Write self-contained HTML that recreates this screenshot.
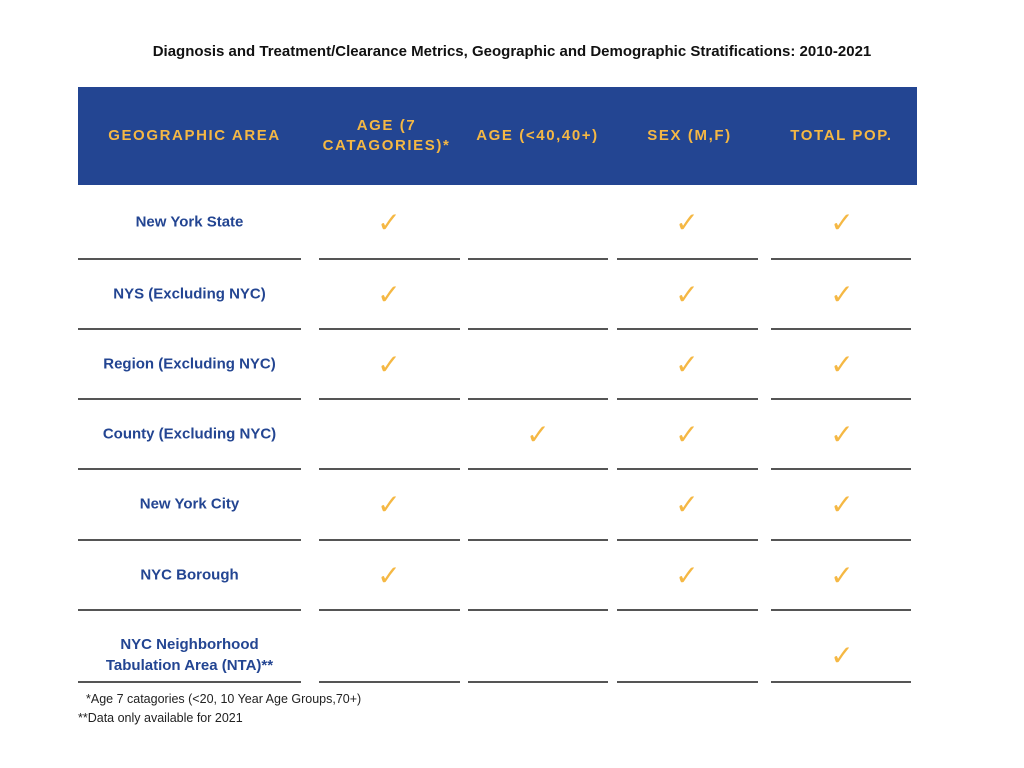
<!DOCTYPE html>
<html><head><meta charset="utf-8"><style>
body{margin:0;width:1024px;height:768px;background:#fff;position:relative;font-family:"Liberation Sans",sans-serif;overflow:hidden}
.a{position:absolute}
.title{left:0;width:1024px;top:43px;text-align:center;font-weight:bold;font-size:15px;color:#111}
.hdr{left:78px;top:87px;width:839px;height:98px;background:#234592}
.h{position:absolute;top:87px;height:98px;display:flex;align-items:center;justify-content:center;text-align:center;color:#f5b844;font-weight:bold;font-size:15px;letter-spacing:1.6px;line-height:20px}
.lbl{position:absolute;left:78px;width:223px;text-align:center;color:#234592;font-weight:bold;font-size:15px;line-height:21px;transform:translateY(-50%)}
.ln{position:absolute;height:1.5px;background:#555}
.ck{position:absolute;color:#f5b844;font-size:28px;transform:translate(-50%,-50%);line-height:1}
.fn{position:absolute;font-size:12.5px;color:#222}
</style></head><body>
<div class="a title">Diagnosis and Treatment/Clearance Metrics, Geographic and Demographic Stratifications: 2010-2021</div>
<div class="a hdr"></div>
<div class="h" style="left:78px;width:233px">GEOGRAPHIC AREA</div>
<div class="h" style="left:311px;width:151px">AGE (7<br>CATAGORIES)*</div>
<div class="h" style="left:462px;width:151px">AGE (&lt;40,40+)</div>
<div class="h" style="left:613px;width:153px">SEX (M,F)</div>
<div class="h" style="left:766px;width:151px">TOTAL POP.</div>
<div id="rows"></div>
<div class="fn" style="left:86px;top:692px">*Age 7 catagories (&lt;20, 10 Year Age Groups,70+)</div>
<div class="fn" style="left:78px;top:711px">**Data only available for 2021</div>
<script>
const labels=["New York State","NYS (Excluding NYC)","Region (Excluding NYC)","County (Excluding NYC)","New York City","NYC Borough","NYC Neighborhood<br>Tabulation Area (NTA)**"];
const checks=[[1,0,1,1],[1,0,1,1],[1,0,1,1],[0,1,1,1],[1,0,1,1],[1,0,1,1],[0,0,0,1]];
const centers=[222,294,364,434,504,575,655];
const lines=[258,328,398,468,539,609,681];
const segs=[[78,301],[319,460],[468,608],[617,758],[771,911]];
const ckx=[389,538,687,842];
const root=document.getElementById('rows');
labels.forEach((t,i)=>{
 const l=document.createElement('div');l.className='lbl';l.style.top=centers[i]+'px';l.innerHTML=t;
 
 
 root.appendChild(l);
 segs.forEach(s=>{const d=document.createElement('div');d.className='ln';d.style.left=s[0]+'px';d.style.width=(s[1]-s[0])+'px';d.style.top=lines[i]+'px';
 
 
 root.appendChild(d);});
 checks[i].forEach((c,j)=>{if(!c)return;const k=document.createElement('div');k.className='ck';k.textContent='✓';k.style.left=ckx[j]+'px';k.style.top=(centers[i]+1)+'px';
 
 
 root.appendChild(k);});
});
</script>
</body></html>
